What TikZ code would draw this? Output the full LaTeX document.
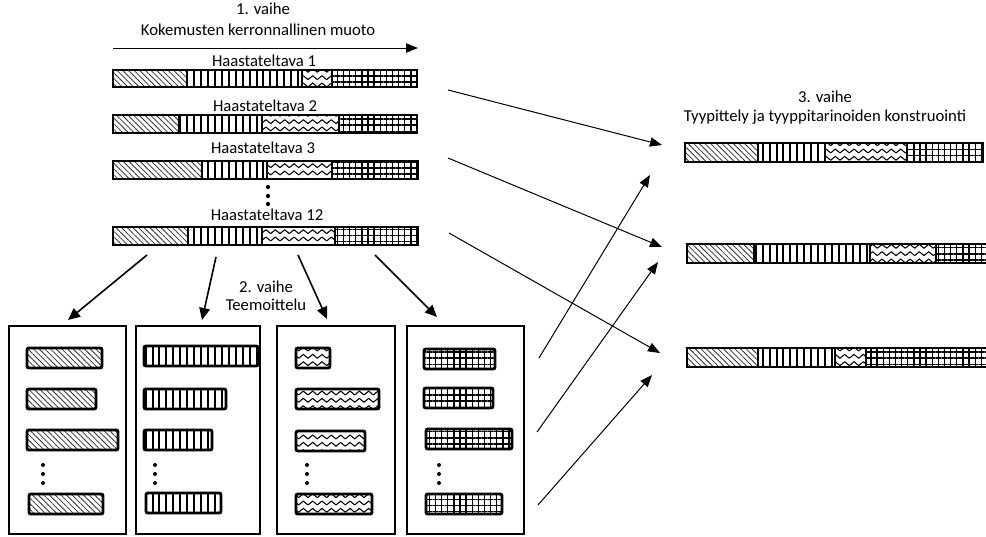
\documentclass[tikz,border=0pt]{standalone}
\usepackage{fontspec}
\setmainfont{Carlito}
\usetikzlibrary{patterns,patterns.meta,arrows.meta}

\pgfdeclarepatternformonly{waves}{\pgfqpoint{-1pt}{-1pt}}{\pgfqpoint{8pt}{7pt}}{\pgfqpoint{7pt}{5.5pt}}{%
  \pgfsetlinewidth{0.8pt}
  \pgfsetroundjoin
  \pgfpathmoveto{\pgfqpoint{0pt}{1.3pt}}
  \pgfpathlineto{\pgfqpoint{3.5pt}{4.2pt}}
  \pgfpathlineto{\pgfqpoint{7pt}{1.3pt}}
  \pgfusepath{stroke}}

\tikzstyle{seg} = [line width=2.2pt]
\tikzstyle{diag} = [pattern={Lines[angle=-45,distance=3pt,line width=0.6pt]}, pattern color=black!80]
\tikzstyle{vert} = [pattern={Lines[angle=90,distance=5.2pt,line width=1.5pt]}]
\tikzstyle{wave} = [pattern=waves]
\tikzstyle{ruut} = [pattern={Hatch[distance=4.6pt,line width=1pt]}]
\tikzstyle{lbl} = [font=\fontsize{12.5}{14}\selectfont, inner sep=0pt]
\tikzstyle{laatikko} = [line width=0.8pt]
\tikzstyle{nuoli} = [-{Triangle[length=9pt,width=7pt]}, line width=0.75pt]
\tikzstyle{alas} = [-{Triangle[length=9pt,width=8pt]}, line width=1.2pt]

% y, x0, x1, x2, x3, x4, height
\newcommand{\kertomus}[7]{%
  \draw[seg,diag] (#2,#1) rectangle (#3,#1+#7);
  \draw[seg,vert] (#3,#1) rectangle (#4,#1+#7);
  \draw[seg,wave] (#4,#1) rectangle (#5,#1+#7);
  \draw[seg,ruut] (#5,#1) rectangle (#6,#1+#7);
}
% style, x0, x1, y
\newcommand{\teema}[4]{%
  \draw[seg,#1,rounded corners=1.5pt] (#2,#4) rectangle (#3,#4+20);
}

\begin{document}
\begin{tikzpicture}[x=0.75pt, y=-0.75pt]
\clip (0,0) rectangle (986,536);

% 1. vaihe
\node[lbl] (vaihe1) at (263,9) {1. vaihe};
\node[lbl] (muoto) at (258,30) {Kokemusten kerronnallinen muoto};
\coordinate (aika0) at (113,48);
\coordinate (aika1) at (418,48);
\draw[nuoli] (aika0) -- (aika1);

\node[lbl] (h1) at (264,61) {Haastateltava 1};
\kertomus{70}{113}{187}{302}{332}{417}{17}
\node[lbl] (h2) at (265,106) {Haastateltava 2};
\kertomus{115}{113}{179}{262}{339}{417}{18}
\node[lbl] (h3) at (263,148) {Haastateltava 3};
\kertomus{161}{113}{202}{267}{332}{418}{18}
\foreach \y in {187,196,204}
  \fill (268,\y) circle (1.6pt);
\node[lbl] (h12) at (267,215) {Haastateltava 12};
\kertomus{227}{113}{188}{262}{335}{418}{18}

% 2. vaihe
\node[lbl] (vaihe2) at (266,287) {2. vaihe};
\node[lbl] (teem) at (266,305) {Teemoittelu};
\coordinate (t1a) at (147,255); \coordinate (t1b) at (68,320);
\coordinate (t2a) at (216,257); \coordinate (t2b) at (202,320);
\coordinate (t3a) at (298,255); \coordinate (t3b) at (327,319);
\coordinate (t4a) at (375,255); \coordinate (t4b) at (437,317);
\draw[alas] (t1a) -- (t1b);
\draw[alas] (t2a) -- (t2b);
\draw[alas] (t3a) -- (t3b);
\draw[alas] (t4a) -- (t4b);

\draw[laatikko] (9,326) rectangle (126,534);
\draw[laatikko] (136,326) rectangle (260,534);
\draw[laatikko] (277,326) rectangle (395,534);
\draw[laatikko] (407,326) rectangle (524,534);

\teema{diag}{27}{102}{348}
\teema{diag}{27}{96}{389}
\teema{diag}{27}{118}{430}
\teema{diag}{29}{103}{494}
\teema{vert}{144}{258}{346}
\teema{vert}{144}{226}{389}
\teema{vert}{144}{212}{430}
\teema{vert}{146}{221}{493}
\teema{wave}{296}{330}{348}
\teema{wave}{296}{379}{389}
\teema{wave}{296}{365}{431}
\teema{wave}{296}{372}{494}
\teema{ruut}{424}{495}{349}
\teema{ruut}{424}{493}{388}
\teema{ruut}{426}{512}{429}
\teema{ruut}{426}{502}{494}
\foreach \x in {43,155,307,439}
  \foreach \y in {465,474,483}
    \fill (\x,\y) circle (1.5pt);

% 3. vaihe
\node[lbl] (vaihe3) at (825,97) {3. vaihe};
\node[lbl] (tyyp) at (825,117) {Tyypittely ja tyyppitarinoiden konstruointi};
\kertomus{143}{685}{758}{825}{907}{983}{19}
\kertomus{244}{687}{754}{870}{936}{1000}{19}
\kertomus{348}{687}{758}{835}{866}{1000}{19}

\coordinate (k1) at (448,90);  \coordinate (r1) at (662,145);
\coordinate (k3) at (448,158); \coordinate (r2) at (662,247);
\coordinate (k12) at (449,233); \coordinate (r3) at (660,353);
\draw[nuoli] (k1) -- (r1);
\draw[nuoli] (k3) -- (r2);
\draw[nuoli] (k12) -- (r3);
\coordinate (u1a) at (539,358); \coordinate (u1b) at (650,175);
\coordinate (u2a) at (537,432); \coordinate (u2b) at (658,262);
\coordinate (u3a) at (538,505); \coordinate (u3b) at (652,375);
\draw[nuoli] (u1a) -- (u1b);
\draw[nuoli] (u2a) -- (u2b);
\draw[nuoli] (u3a) -- (u3b);
\end{tikzpicture}
\end{document}
